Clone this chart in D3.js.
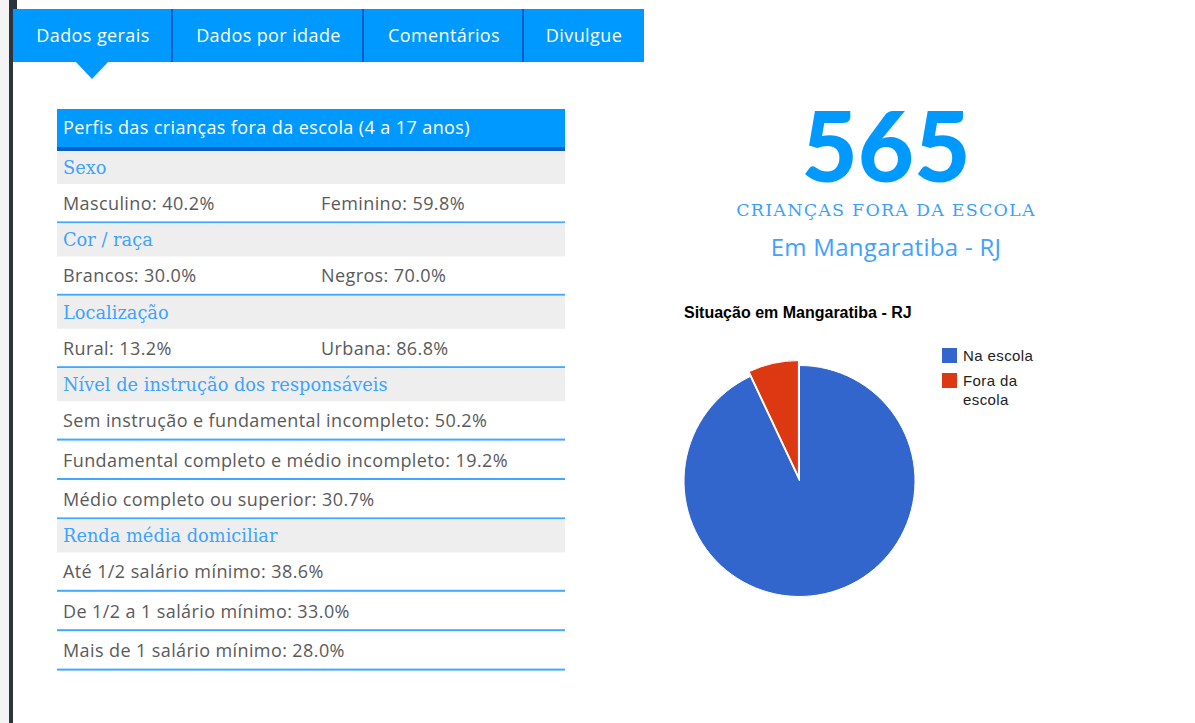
<!DOCTYPE html>
<html><head><meta charset="utf-8">
<script src="https://cdn.jsdelivr.net/npm/d3@7"></script>
<style>
html,body{margin:0;padding:0;background:#fff;}
svg{display:block;}
</style></head>
<body>
<script>
// ---------- data ----------
const tabs = ["Dados gerais", "Dados por idade", "Comentários", "Divulgue"];
const tableTitle = "Perfis das crianças fora da escola (4 a 17 anos)";
const sections = ["Sexo", "Cor / raça", "Localização", "Nível de instrução dos responsáveis", "Renda média domiciliar"];
const sexoLabels = ["Masculino", "Feminino"];
const sexoValues = [40.2, 59.8];
const racaLabels = ["Brancos", "Negros"];
const racaValues = [30.0, 70.0];
const localLabels = ["Rural", "Urbana"];
const localValues = [13.2, 86.8];
const instrucaoLabels = ["Sem instrução e fundamental incompleto", "Fundamental completo e médio incompleto", "Médio completo ou superior"];
const instrucaoValues = [50.2, 19.2, 30.7];
const rendaLabels = ["Até 1/2 salário mínimo", "De 1/2 a 1 salário mínimo", "Mais de 1 salário mínimo"];
const rendaValues = [38.6, 33.0, 28.0];
const totalFora = 565;
const bigLabel = "CRIANÇAS FORA DA ESCOLA";
const place = "Em Mangaratiba - RJ";
const pieTitle = "Situação em Mangaratiba - RJ";
const pieCategories = ["Na escola", "Fora da escola"];
const pieValues = [7505, 565];

// ---------- layout ----------
const W = 1195, H = 723;
const svg = d3.select("body").append("svg").attr("width", W).attr("height", H);
const BODY = "'Open Sans', sans-serif";
const SLAB = "'DejaVu Serif', serif";
const ARIAL = "Arial, 'Liberation Sans', sans-serif";

// page chrome
svg.append("rect").attr("x", 0).attr("y", 0).attr("width", 9).attr("height", H).attr("fill", "#f4f4f4");
svg.append("rect").attr("x", 9).attr("y", 0).attr("width", 4).attr("height", H).attr("fill", "#2b3440");
svg.append("rect").attr("x", 9).attr("y", 0).attr("width", 8).attr("height", 9).attr("fill", "#2b3440");

// tabs
const tabX = d3.scaleOrdinal().domain(tabs).range([13, 173, 364, 524]);
const tabEnd = 644;
const tabW = (t, i) => (i < tabs.length - 1 ? tabX(tabs[i + 1]) : tabEnd) - tabX(t);
const tabG = svg.append("g");
tabG.append("rect").attr("x", 13).attr("y", 9).attr("width", tabEnd - 13).attr("height", 53).attr("fill", "#0099ff");
tabG.selectAll("rect.sep").data(tabs.slice(1)).join("rect").attr("class", "sep")
  .attr("x", d => tabX(d) - 2).attr("y", 9).attr("width", 2).attr("height", 53).attr("fill", "#0a5fc4");
tabG.selectAll("text").data(tabs).join("text")
  .attr("x", (d, i) => tabX(d) + tabW(d, i) / 2).attr("y", 36).attr("dy", "0.35em")
  .attr("text-anchor", "middle").attr("fill", "#fff").style("font-family", BODY).style("font-size", "18px")
  .style("letter-spacing", "0.4px").text(d => d);
// pointer under active tab
tabG.append("path").attr("d", d3.line()([[75, 61], [109, 61], [92, 79]])).attr("fill", "#0099ff");

// table
const tx0 = 57, tx1 = 565, col2 = 321;
const t = svg.append("g");
t.append("rect").attr("x", tx0).attr("y", 109).attr("width", tx1 - tx0).attr("height", 38).attr("fill", "#0099ff");
t.append("rect").attr("x", tx0).attr("y", 147).attr("width", tx1 - tx0).attr("height", 4).attr("fill", "#0a5fc4");
t.append("text").attr("x", 63).attr("y", 128).attr("dy", "0.35em").attr("fill", "#fff")
  .style("font-family", BODY).style("font-size", "18px").style("letter-spacing", "0.4px").text(tableTitle);

const fmt = d3.format(".1f");
const groups = [
  {name: sections[0], rows: [[sexoLabels, sexoValues]]},
  {name: sections[1], rows: [[racaLabels, racaValues]]},
  {name: sections[2], rows: [[localLabels, localValues]]},
  {name: sections[3], rows: instrucaoLabels.map((l, i) => [[l], [instrucaoValues[i]]])},
  {name: sections[4], rows: rendaLabels.map((l, i) => [[l], [rendaValues[i]]])}
];
const secH = 33, rowH = 39.4;
let y = 151;
groups.forEach(g => {
  t.append("rect").attr("x", tx0).attr("y", y).attr("width", tx1 - tx0).attr("height", secH).attr("fill", "#eeeeee");
  t.append("text").attr("x", 63).attr("y", y + secH / 2).attr("dy", "0.35em").attr("fill", "#3ea2ff")
    .style("font-family", SLAB).style("font-size", "17.8px").text(g.name);
  y += secH;
  g.rows.forEach(([labels, vals]) => {
    labels.forEach((l, j) => {
      t.append("text").attr("x", j === 0 ? 63 : col2).attr("y", y + (rowH - 2) / 2 + 1).attr("dy", "0.35em")
        .attr("fill", "#5a5a5a").style("font-family", BODY).style("font-size", "18px").style("letter-spacing", "0.4px")
        .text(`${l}: ${fmt(vals[j])}%`);
    });
    t.append("rect").attr("x", tx0).attr("y", y + rowH - 2).attr("width", tx1 - tx0).attr("height", 2).attr("fill", "#3fa9ff");
    y += rowH;
  });
});

// right summary
const cx = 886;
svg.append("text").attr("x", cx).attr("y", 182).attr("text-anchor", "middle").attr("fill", "#0099ff")
  .style("font-family", "Lato, sans-serif").style("font-weight", "900").style("font-size", "97px").text(totalFora);
svg.append("text").attr("x", cx).attr("y", 216).attr("text-anchor", "middle").attr("fill", "#3a9ffc")
  .style("font-family", SLAB).style("font-size", "17.5px").style("letter-spacing", "1.2px").text(bigLabel);
svg.append("text").attr("x", cx).attr("y", 256).attr("text-anchor", "middle").attr("fill", "#3ea2ff")
  .style("font-family", BODY).style("font-size", "24px").style("letter-spacing", "0.3px").text(place);

// pie chart
svg.append("text").attr("x", 684).attr("y", 318).attr("fill", "#000")
  .style("font-family", ARIAL).style("font-weight", "bold").style("font-size", "16px").text(pieTitle);
const color = d3.scaleOrdinal().domain(pieCategories).range(["#3366cc", "#dc3912"]);
const pcx = 799.5, pcy = 481, R = 115.5;
const pie = d3.pie().sort(null).value(d => d.v);
const arcs = pie(pieCategories.map((c, i) => ({c, v: pieValues[i]})));
const arc = d3.arc().innerRadius(0).outerRadius(R);
const pg = svg.append("g").attr("transform", `translate(${pcx},${pcy})`);
pg.selectAll("path").data(arcs).join("path")
  .attr("transform", d => {
    if (d.data.c !== "Fora da escola") return null;
    const a = (d.startAngle + d.endAngle) / 2, off = 5;
    return `translate(${off * Math.sin(a)},${-off * Math.cos(a)})`;
  })
  .attr("d", arc).attr("fill", d => color(d.data.c)).attr("stroke", "#fff").attr("stroke-width", 1);

// legend
const lg = svg.append("g").style("font-family", ARIAL).style("font-size", "15px").style("letter-spacing", "0.4px");
const legY = d3.scaleOrdinal().domain(pieCategories).range([348, 373]);
lg.selectAll("rect").data(pieCategories).join("rect")
  .attr("x", 942).attr("y", d => legY(d)).attr("width", 15).attr("height", 15).attr("fill", d => color(d));
const legLines = {"Na escola": ["Na escola"], "Fora da escola": ["Fora da", "escola"]};
pieCategories.forEach(c => {
  legLines[c].forEach((ln, k) => {
    lg.append("text").attr("x", 963).attr("y", legY(c) + 13 + k * 19).attr("fill", "#222").text(ln);
  });
});
</script>
</body></html>
